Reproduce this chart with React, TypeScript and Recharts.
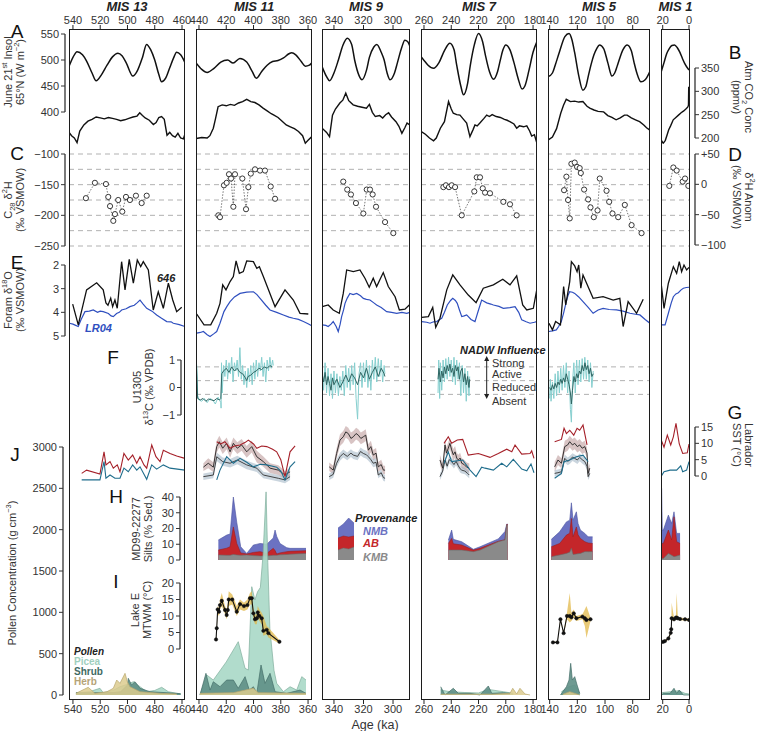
import React from 'react';
import { ComposedChart, LineChart, Line, Area, XAxis, YAxis, ReferenceArea, ReferenceLine } from 'recharts';

const FONT = '"Liberation Sans", Arial, Helvetica, sans-serif';
const PT = 29, PB = 700, CH = 731, PADX = 16;
const PINK = '#e9dcdf', GREY = '#f0efef';

// ---------------- tick labels ----------------
const ticks13 = [540, 520, 500, 480, 460];
const ticks11 = [440, 420, 400, 380, 360];
const ticks9 = [340, 320, 300];
const ticks7 = [260, 240, 220, 200, 180];
const ticks5 = [140, 120, 100, 80];
const ticks1 = [20, 0];

// ---------------- A: June 21st insolation 65N ----------------
const ins13 = [[543,487],[540,505],[537,516],[533,510],[530,498],[526,475],[523,460],[519,472],[515,490],[511,506],[507,513],[504,508],[501,495],[496,469],[493,478],[489,505],[486,530],[483,520],[480,500],[477,472],[475,458],[472,465],[469,485],[466,505],[464,515],[461,510],[458,496]];
const ins11 = [[442,494],[438,482],[434,476],[429,484],[424,496],[419,500],[415,494],[410,503],[405,496],[401,478],[398,465],[394,478],[390,490],[386,497],[382,499],[378,504],[374,512],[372,514],[369,510],[365,497],[362,488],[359,490],[357,495]];
const ins9 = [[348,487],[345,468],[343,460],[340,475],[337,500],[334,528],[331,542],[328,530],[326,500],[323,470],[321,462],[318,480],[316,505],[313,525],[311,530],[308,515],[306,500],[304,475],[302,462],[299,475],[297,495],[294,525],[292,538],[290,535],[288.5,526]];
const ins7 = [[262,506],[259,496],[257,490],[253,484],[249,495],[245,518],[241,532],[238,520],[236,490],[233,450],[231,433],[228,455],[226,490],[223,530],[220,551],[217,535],[215,510],[212,478],[209,463],[206,478],[204,500],[202,520],[200,529],[197,520],[194,495],[191,465],[188,444],[186,450],[183,480],[180,515],[177.2,535]];
const ins5 = [[141,468],[138,475],[136,490],[133,515],[129,545],[126,551],[124,540],[122,515],[119,470],[116,442],[114,448],[112,470],[110,492],[108,510],[106,522],[104,529],[101,522],[98,495],[95,469],[93,475],[91,490],[87,520],[84,529],[81,518],[79,495],[77,475],[74,458],[71,462],[67.6,478]];
const ins1 = [[21.2,477],[19,495],[17,512],[15,522],[13,528],[11,529],[9,524],[7,515],[5,503],[3,492],[1,484],[0,481]];

// ---------------- B: atmospheric CO2 ----------------
const co2_13 = [[542.8,212],[541,205],[539,200],[537,190],[535,215],[532,228],[529,236],[526,240],[523,245],[520,243],[517,241],[514,244],[511,242],[508,240],[505,237],[502,239],[499,242],[496,245],[493,247],[491,254],[489,248],[487,243],[484,238],[481,229],[479,233],[477,244],[475,246],[473,240],[471,206],[469,212],[467,205],[465,202],[463,210],[461,200],[459,198],[458,207]];
const co2_11 = [[442,199],[438,201],[434,200],[432,205],[429.5,221],[428,240],[426,267],[423,271],[420,269],[417,272],[414,270],[411,275],[408,278],[405,283],[402,278],[399,276],[396,271],[393,264],[390,258],[387,252],[385,249],[382,244],[379,236],[376,228],[373,224],[370,220],[367,214],[364,205],[362,189],[360,195],[357.2,203]];
const co2_9 = [[348,221],[345,212],[343,203],[341,249],[339,262],[336,275],[334,281],[332,296],[330,280],[327,271],[324,268],[321,266],[318,264],[316,272],[314,255],[312,246],[309,248],[307,243],[305,250],[303,254],[301,245],[298,235],[296,225],[294,210],[292,222],[290.5,232],[288.6,228]];
const co2_7 = [[262,214],[259,208],[256,200],[253,194],[251,200],[248,221],[245,235],[242,278],[240,262],[238.5,253],[236,250],[233.6,249],[231,240],[228.7,232],[226.3,203],[224,218],[222.6,228],[221,226],[219,232],[216,242],[214,249],[212,246],[210,250],[207,246],[204,244],[201,240],[199,238],[197,235],[194,230],[192,221],[190,226],[187,224],[184.6,226],[182.5,215],[181,204],[179,207],[177.2,189]];
const co2_5 = [[141,196],[138,202],[135,220],[132,253],[130,270],[128,283],[125,278],[122,279],[119,277],[116,278],[113,268],[111,264],[108,260],[105,257],[101,256],[98,248],[95,244],[92,239],[89,243],[86,249],[84,249],[81,243],[78,239],[75,235],[72,228],[70,222],[67.6,217]];
const co2_1 = [[21.2,196],[20,190],[19.5,189],[18,195],[16.5,208],[15.5,217],[14,226],[12,239],[10,244],[8,249],[6,254],[4,258],[2,263],[1,266],[0.4,270],[0.2,310],[0,275]];

// ---------------- C / D: C28 dD ----------------
const c28_13 = [[530.5,-172],[523.9,-147],[515.8,-149],[514.1,-170],[512.8,-185],[510.4,-209],[509.2,-198],[506.8,-175],[503.8,-194],[501.1,-170],[498.2,-175],[493.8,-168],[489.6,-180],[485.9,-168]];
const c28_11 = [[425.8,-200],[424.6,-203],[421.7,-151],[419.7,-147],[418,-133],[416.5,-140],[414.8,-186],[413.6,-133],[408.2,-140],[405.5,-190],[403.8,-154],[402,-132],[398.9,-125],[395.2,-127],[391.6,-127],[387.4,-153],[384.2,-173]];
const c28_9 = [[333.7,-145],[331,-158],[328.5,-166],[325.1,-180],[320.1,-197],[317.8,-158],[315.6,-158],[313.8,-166],[311.5,-186],[305.4,-211],[299.8,-229]];
const c28_7 = [[245.8,-154],[243.9,-151],[241.7,-154],[239.7,-151],[237.2,-154],[232.3,-200],[223.1,-161],[221.3,-138],[218.9,-138],[216.9,-156],[215.2,-163],[211.6,-164],[201.8,-178],[196.9,-182],[192,-200]];
const c28_5 = [[129.6,-159],[127.9,-137],[126.7,-175],[125.5,-205],[124.3,-116],[121.9,-114],[120.2,-121],[118.3,-123],[117.5,-131],[115.1,-158],[112.2,-174],[110.5,-187],[108.1,-203],[105.4,-192],[103.8,-140],[98.9,-160],[97,-178],[94.6,-197],[90.5,-203],[85.7,-183],[80.8,-216],[73.6,-229]];
const c28_1 = [[15,-152],[11.9,-122],[9.4,-127],[4.8,-145],[3,-140],[0.5,-152]];
const cDash = [-100, -125, -150, -175, -200, -225, -250];

// ---------------- E: foram d18O (646 and LR04) ----------------
const f646_13 = [[540.2,3.65],[536.1,4.53],[530,3.05],[522.6,2.75],[517.8,3.05],[515.8,3.6],[514.3,3.7],[512.3,3.4],[510.9,3.76],[509.2,3.48],[507.5,3.83],[504.3,1.86],[501.8,3.05],[498.7,1.76],[495.7,2.77],[492.8,1.79],[490.3,2.07],[488.4,1.86],[484.7,2.21],[481.1,3.9],[477.4,3.13],[473.7,3.83],[470,2.77],[466.8,3.48],[463.9,3.97],[460.2,3.79]];
const lr04_13 = [[542.6,4.46],[540,4.5],[538,4.55],[536.1,4.6],[534,4.3],[531.2,3.97],[528,3.95],[525.1,3.9],[522,4.0],[520,3.95],[517.8,3.97],[514,4.05],[512,4.15],[510.4,4.18],[508,4.05],[506,4.0],[504.3,3.9],[501,3.85],[498.2,3.76],[495,3.7],[493,3.6],[490.8,3.48],[488.5,3.65],[485.9,3.83],[482,3.95],[478.6,4.11],[475,4.25],[471.2,4.39],[468,4.4],[466.4,4.46],[462,4.52],[457.9,4.6]];
const f646_11 = [[441.7,4.07],[436.3,4.53],[431.4,4.53],[427,4.04],[424.6,3.62],[422.6,2.84],[420.2,3.05],[417.2,2.7],[414.8,2.49],[412.8,1.83],[410.4,2.35],[407.5,2.28],[405,1.83],[400.1,1.86],[397.6,2.14],[395.7,2.07],[392.8,2.49],[384.2,3.76],[376.9,3.05],[370.8,3.48],[365.9,4.04],[359.8,4.07]];
const lr04_11 = [[441.7,4.88],[439,4.85],[436.8,4.81],[434,4.95],[431.9,5.02],[429,4.9],[427,4.81],[424.6,4.46],[421.7,3.97],[419.5,3.75],[417.2,3.55],[414,3.35],[409.9,3.2],[405,3.15],[400.1,3.13],[397.5,3.25],[395.2,3.41],[391,3.7],[387.9,3.9],[383,4.0],[378.1,4.11],[374,4.2],[370.8,4.25],[367,4.3],[363.4,4.39],[360,4.48],[357.3,4.57]];
const f646_9 = [[347.9,3.76],[343.9,3.69],[340.5,3.9],[336.4,4.04],[333.7,3.2],[331.4,2.21],[326.9,2.28],[322.4,2.21],[319,2.56],[316.1,2.94],[313.4,2.56],[311.1,2.91],[306.6,2.32],[303.2,2.91],[298.6,3.34],[295.7,3.9],[291.9,3.87],[289,3.69]];
const lr04_9 = [[347.9,4.53],[345.5,4.55],[343.9,4.6],[342,4.5],[340.5,4.39],[338.5,4.6],[337.1,4.81],[335.8,4.5],[334.8,4.18],[333.5,3.9],[332.5,3.62],[331,3.4],[329.2,3.2],[327,3.25],[324.6,3.2],[322,3.3],[320.1,3.41],[318,3.45],[315.6,3.48],[313,3.6],[311.1,3.69],[308,3.8],[304.3,3.97],[301,4.0],[297.5,4.04],[294,4.0],[290.7,4.04],[288.6,4.0]];
const f646_7 = [[261.7,4.21],[256.8,4.18],[253.6,3.79],[251.4,4.63],[248.3,4.25],[243.3,3.05],[238.9,2.42],[233.6,2.84],[227.5,3.27],[221.8,3.59],[216.5,2.98],[209.1,2.84],[202.2,2.6],[196.9,2.84],[192,2.46],[187.6,3.69],[184.6,3.9],[179.8,3.83],[177.3,3.05]];
const lr04_7 = [[261.7,4.39],[258,4.42],[255.6,4.46],[253,4.4],[250.7,4.39],[248.5,4.3],[247,4.25],[245,4.0],[242.9,3.69],[240.5,3.5],[238.9,3.41],[237,3.5],[235.6,3.62],[234,3.9],[232.3,4.18],[230.5,4.15],[228.7,4.11],[225.5,4.3],[222.6,4.39],[220,3.9],[217.7,3.48],[214,3.6],[211,3.65],[209.1,3.69],[205,3.75],[201.8,3.83],[197,3.8],[193.2,3.76],[190.5,4.0],[188.3,4.32],[185,4.4],[182.2,4.46],[179,4.42],[177.3,4.39]];
const f646_5 = [[140.5,4.46],[138,4.74],[135.7,4.39],[132.2,4.53],[129.9,2.91],[128.4,3.69],[125.5,2.7],[124.3,1.86],[121.9,2.04],[120.2,2.28],[119,2.0],[117.5,2.98],[115.9,2.42],[108.6,3.41],[101.4,3.34],[94.1,3.48],[89.3,3.41],[86.9,4.6],[83.3,3.55],[77.2,4.04],[72.4,3.45]];
const lr04_5 = [[140.5,4.81],[138,4.78],[135.2,4.74],[133.5,4.6],[131.6,4.39],[129.8,4.0],[128,3.55],[126.8,3.3],[125.6,3.13],[123.5,3.15],[121.9,3.2],[119,3.35],[115.9,3.55],[112,3.8],[108.6,4.04],[105,3.9],[101.4,3.83],[97,3.88],[91.7,3.9],[87,3.95],[82,4.04],[78,4.08],[74.8,4.11],[71,4.3],[67.6,4.46]];
const f646_1 = [[21.2,2.77],[19,3.83],[15.7,2.77],[11.9,2.07],[9.4,2.35],[7.4,1.86],[5.6,2.28],[3.8,2.0],[1.8,2.21],[0,2.1]];
const lr04_1 = [[20.8,4.53],[18.2,4.53],[15.7,4.04],[13.5,3.6],[11.9,3.34],[10,3.22],[8.1,3.17],[6,3.05],[4.3,2.98],[2,2.95],[0,2.94]];

// ---------------- F: U1305 d13C (dark = smoothed, light = raw) ----------------
const d13D_11 = [[442,0.9],[441.5,0.3],[441,-0.4],[439,-0.45],[437,-0.4],[435,-0.5],[433,-0.42],[431,-0.45],[429,-0.48],[427,-0.4],[425,-0.45],[424,-0.4],[423.3,0.5],[422,0.6],[420,0.7],[418,0.55],[416,0.75],[414,0.6],[412,0.7],[410,0.55],[408,0.5],[406,0.35],[405,0.25],[404,0.4],[402,0.45],[400,0.55],[398,0.6],[396,0.7],[394,0.65],[392,0.75],[390,0.7],[388,0.8],[386.5,0.75]];
const d13L_11 = [[442,0.95],[441.5,0.7],[441,-0.3],[440,-0.45],[438,-0.5],[436,-0.4],[434,-0.55],[432,-0.4],[430,-0.45],[428,-0.6],[426,-0.35],[424,-0.55],[423.8,-0.75],[423.5,0.9],[423,-0.2],[422,0.8],[421,0.4],[420,1.0],[419,0.3],[418,0.9],[417,0.5],[416,1.1],[415,0.2],[414,0.9],[413,0.6],[412,1.0],[411,0.4],[410,1.45],[409,0.3],[408,0.8],[407,0.1],[406,0.6],[405,0.0],[404,0.7],[403,0.2],[402,0.8],[401,0.1],[400,0.9],[399,0.3],[398,1.0],[397,0.4],[396,0.9],[395,0.6],[394,1.1],[393,0.4],[392,0.9],[391,0.2],[390,1.0],[389,0.6],[388,1.1],[387,0.7],[386,1.0],[385.5,0.8]];
const d13D_9 = [[348,0.5],[347,0.2],[346,0.55],[345,0.1],[344,0.4],[343,0.15],[342,-0.1],[341,0.35],[340,0.1],[338,0.3],[336,0.0],[334,0.2],[332,0.45],[330,0.2],[328,0.5],[326,0.35],[324,0.1],[322,0.55],[320,0.35],[318,0.7],[316,0.3],[314,0.55],[312,0.75],[310,0.4],[308,0.7],[306,0.5],[305.5,0.4]];
const d13L_9 = [[348,0.8],[347,-0.1],[346,0.9],[345,-0.2],[344,0.7],[343,-0.3],[342,0.5],[341,-0.4],[340,0.6],[339,-0.2],[338,0.5],[337,-0.3],[336,0.4],[335,-0.1],[334,0.6],[333,-0.3],[332,0.8],[331,0.0],[330,0.7],[329,-0.1],[328,0.8],[327,0.1],[326,0.9],[325,-0.4],[324,-1.15],[323,0.5],[322,0.9],[321,0.0],[320,0.9],[319,0.2],[318,1.0],[317,0.0],[316,0.8],[315,-0.1],[314,1.0],[313,0.3],[312,1.1],[311,0.2],[310,1.05],[309,0.4],[308,1.0],[307,0.2],[306,0.8],[305.5,0.5]];
const d13D_7 = [[249.7,0.3],[249,0.7],[248,0.2],[247,0.6],[246,0.35],[245,0.75],[244,0.5],[243,0.8],[242,0.6],[241,0.85],[240,0.55],[239,0.7],[238,0.4],[237,0.8],[236,0.6],[235,0.75],[234,0.3],[233,0.6],[232,0.7],[231,0.2],[230,0.5],[229,0.1],[228,0.4],[227,0.0],[226.5,0.3]];
const d13L_7 = [[249.7,-0.2],[249.2,1.0],[248.5,-0.4],[248,0.9],[247,-0.1],[246,1.0],[245,0.2],[244,1.05],[243,0.3],[242,1.1],[241,0.4],[240,1.0],[239,0.2],[238,1.1],[237,0.1],[236,1.0],[235,0.3],[234,0.9],[233,-0.3],[232,0.8],[231,-0.2],[230,0.7],[229,-0.5],[228,0.6],[227,-0.3],[226.5,0.4]];
const d13D_5 = [[140,0.0],[139,-0.1],[138,0.1],[137,-0.05],[136,0.15],[135,0.0],[134,0.2],[133,0.1],[132,0.3],[131,0.15],[130,0.35],[129,0.2],[128,0.5],[127,0.3],[126,0.1],[125,-0.2],[124.3,-0.6],[123.5,-0.1],[122.5,0.4],[121.5,0.2],[120.5,0.5],[119.5,0.35],[118.5,0.6],[117.5,0.5],[116.5,0.8],[115.5,0.6],[114.5,0.9],[113.5,0.65],[112.5,0.8],[111.5,0.5],[110.5,0.7],[109.5,0.4],[108.5,0.5]];
const d13L_5 = [[140,-0.4],[139.5,0.3],[139,-0.5],[138,0.2],[137,-0.4],[136,0.5],[135,-0.3],[134,0.6],[133,-0.2],[132,0.7],[131,-0.1],[130,0.8],[129,0.0],[128,0.9],[127,-0.2],[126,0.6],[125,-0.8],[124.3,-1.26],[123.5,0.2],[122.5,0.9],[121.5,-0.2],[120.5,1.0],[119.5,0.1],[118.5,1.0],[117.5,0.2],[116.5,1.05],[115.5,0.3],[114.6,1.1],[113.5,0.3],[112.5,1.0],[111.5,0.2],[110.5,0.9],[109.5,0.0],[108.5,0.6]];
const fDash = [0.75, 0.25, -0.25];

// ---------------- G: Labrador SST (red, blue) + paired records [age, value, err] ----------------
const sstR_13 = [[533.6,0.8],[530,1.8],[520.2,0.6],[517.2,7.4],[515.8,3.4],[512.8,4.4],[510.4,2.4],[507.5,3.4],[505.5,1.3],[502.6,6.9],[499.4,4.9],[496.2,6.4],[493.2,3.9],[490.8,5.9],[487.9,3.4],[485.9,2.4],[482.2,9.5],[479.1,5.9],[476.1,4.4],[473.7,7.9],[468.8,6.9],[463.9,6.1],[457.9,5.4]];
const sstB_13 = [[533.6,-1.2],[520.2,-1.2],[517.2,4.4],[515.8,-0.7],[512.8,0.3],[509.2,-0.7],[505.5,-0.7],[502.6,2.4],[499.4,1.3],[496.2,3.4],[493.2,1.8],[490.8,2.8],[485.9,-1.0],[482.2,3.4],[478.6,2.1],[473.7,3.4],[468.8,2.4],[457.9,1.8]];
const sstR_11 = [[427,10.5],[424,9.8],[421,10.5],[417.2,8.5],[414,9.2],[409.9,9.5],[406,10.3],[403.8,11],[400,9.8],[397.6,8.5],[394,9.2],[390.3,9],[386,8.2],[383,7.4],[380,5],[376.9,-0.2],[373.2,7.4],[369.5,9.2]];
const sstB_11 = [[427,-1.2],[424.6,1.8],[419.7,5.9],[414.8,3.9],[409.9,5.4],[405,4.2],[400.1,2.8],[395,3.6],[390.3,3.4],[383,2.7],[380,1.5],[376.9,-1.2],[373.2,2.8],[369.5,4.4]];
const sstK1_11 = [[436.8,2.7,1.2],[433.2,3.9,1.5],[429.5,2.7,1.5],[427,9,1.8],[425.1,10.5,1.8],[422.6,8.5,1.8],[419.7,10,1.8],[417.2,7.4,1.8],[414.8,10,1.8],[411.9,8.5,1.8],[408.7,9.5,1.8],[405,7.4,1.8],[401.3,9,1.8],[397.6,5.9,1.8],[392.8,4.4,1.6],[387.9,2.4,1.5],[381.8,1.8,1.5],[376.9,0.3,1.2],[373.2,1.3,1.2]];
const sstK2_11 = [[436.8,-0.2,1],[429.5,0.3,1],[427,5.9,1.3],[422.6,4.4,1.3],[417.2,3.9,1.3],[411.9,4.9,1.3],[405,3.4,1.3],[397.6,2.4,1.2],[392.8,0.3,1],[381.8,-0.7,1],[376.9,-1.2,1],[373.2,-0.2,1]];
const sstK1_9 = [[343.2,2.8,1.3],[340.5,1.8,1.3],[338.2,6.9,1.6],[335.9,11,1.8],[333.7,12,1.8],[332,13.5,1.8],[330.3,13,1.8],[328.5,11.5,1.8],[326.9,12,1.8],[325,13,1.8],[323.5,12.5,1.8],[321.8,11.5,1.8],[320.1,12,1.8],[318.5,12.5,1.8],[316.7,7.9,1.8],[315,9,1.8],[313.4,6.4,1.6],[311.5,7,1.6],[310,2.8,1.5],[308,3.5,1.5],[306.5,1.8,1.3],[305.4,1.8,1.3]];
const sstK2_9 = [[343.2,-0.2,1],[340.5,0.5,1],[338.2,3.9,1.2],[335.9,5.9,1.2],[333.7,6.9,1.2],[331,6,1.2],[328.5,7,1.2],[326.9,6.4,1.2],[324,6,1.2],[322,7.5,1.2],[320.1,6.9,1.2],[318,6.5,1.2],[316.7,5.9,1.2],[315,5,1.2],[313.4,3.9,1.2],[311.5,4.2,1.2],[310,0.3,1],[308,1,1],[306.5,-0.5,1],[305.4,-0.7,1]];
const sstR_7 = [[245.3,10],[242.2,12],[239.7,10],[235.6,11],[231.6,11.2],[227.5,6.4],[220.1,6.9],[211.6,5.7],[205.5,6.9],[199.3,8.2],[195.6,7.4],[193.2,9.5],[188.3,6.7],[182.2,6.9],[181,7.7],[179.3,5.4]];
const sstB_7 = [[245.3,3.9],[242.2,7.4],[239.7,4.4],[231.6,4.9],[226.2,1.8],[221.8,-0.2],[217.7,2.7],[215.2,2.4],[209.1,1.8],[203,3.9],[199.3,2.8],[194.5,5.1],[188.3,2.1],[184.6,1.6],[181.5,3.7],[179.3,1.0]];
const sstK1_7 = [[248.3,4.9,1.5],[246.3,2.4,1.5],[244.6,9.5,1.8],[243.5,7,1.8],[242.2,8.5,1.8],[241,10,1.8],[239.7,8,1.8],[238.5,6.5,1.8],[237.2,7.4,1.8],[236,5.5,1.6],[234.8,4.9,1.6],[233.5,5.5,1.6],[232.3,3.9,1.5],[230.5,3.5,1.5],[228.7,2.7,1.4],[226.8,2.4,1.4]];
const sstK2_7 = [[248.3,-0.2,1],[246.3,1.5,1],[244.6,4.9,1.2],[243,3,1.2],[241.5,5,1.2],[239.7,4.4,1.2],[238,3.5,1.2],[236.5,4.5,1.2],[234.8,3.1,1.1],[233.5,2.2,1.1],[232.3,1.8,1],[230,1.5,1],[228,0.8,1],[226.8,0.3,1]];
const sstR_5 = [[136.4,10.5],[131.5,11.2],[129.6,14.6],[127.9,13],[125.5,14],[122.6,12.5],[120.2,14.6],[118.3,14],[115.9,15.6],[113,9.5]];
const sstB_5 = [[136.4,-0.7],[131.5,0.8],[129.6,4.4],[125.5,4.9],[120.7,5.9],[115.9,6.4],[112.2,4.4]];
const sstK1_5 = [[136.4,2.8,1.5],[134,4.9,1.5],[131.5,3.9,1.5],[129.1,9,1.8],[127,9.5,1.8],[125.5,10.5,1.8],[123.5,9.5,1.8],[121.9,10,1.8],[120,9,1.8],[118.3,9.5,1.8],[116.5,8.5,1.8],[114.6,9,1.8],[113,7,1.6],[112.2,0.8,1.4],[111,2.4,1.4]];
const sstK2_5 = [[136.4,0.8,1],[134,1,1],[131.5,1.3,1],[129.1,5.4,1.2],[127,4.5,1.2],[125.5,4.9,1.2],[123.5,5.8,1.2],[121.9,5.4,1.2],[120,4.9,1.2],[118.3,5.7,1.2],[116.5,5,1.2],[114.6,4.4,1.2],[113,3,1.1],[112.2,-0.2,1],[111,0.8,1]];
const sstR_1 = [[21.3,11.2],[19,8.8],[16.5,12.5],[13.9,9.5],[11.9,12],[9.9,16.1],[7.4,9.8],[4.8,6.9],[1.3,7.1],[0,9.8]];
const sstB_1 = [[21.3,-0.2],[19,1.3],[14.4,1.8],[9.4,1.8],[6.3,3.1],[4.8,1.3],[1.8,1.8],[0,4.4]];

// ---------------- H: MD99-2227 silts [age, KMB, AB, NMB] ----------------
const silt11 = [[425.8,3.2,3.1,6.4],[419.7,3,4.5,8.3],[417.2,3,5.4,8.1],[414.8,3.5,17.5,19],[412.3,3.2,7.3,13.5],[409.4,3,1.5,3.9],[405,3.2,0.6,0.4],[400.1,2.8,2,4.7],[395.2,2.6,2.7,5.2],[390.3,2.5,1.7,5.8],[385.5,3,4.4,6.6],[384.2,3,3,13],[383,3,0.8,11.2],[380.6,3.3,1.2,6],[375.6,3.5,1.8,2.5],[373.2,3.7,1.8,1.9],[361.5,4.2,1.7,1.5]];
const silt7 = [[242.1,6.3,4.2,2.2],[239.7,6.3,7.4,5.3],[238.5,6.3,4,2.8],[232.3,6.3,3.2,2.1],[223.8,5.3,1,0.5],[218.9,6.3,1.1,1],[205.5,11.6,0.3,1.5],[200.6,12.7,0.2,5.2],[199.3,22.2,0.3,0.3],[198.6,22.2,0.3,0.3]];
const silt5 = [[138.8,2.1,6.3,4.7],[132.8,3.2,7.3,7.4],[127.9,4.2,11.6,8.4],[125.5,5,12,8.3],[124.3,7.4,19,9.9],[123.1,3.5,11.2,10.6],[120.7,3.8,17.2,9.6],[119.5,4,12,7.2],[117.8,4.2,9.5,5.3],[114.6,5.3,6.3,5.3],[112.2,5.3,5.5,3.9],[109,5.3,5.2,4.2]];
const silt1 = [[20.8,1,9.5,35],[20.3,1,9.5,8.5],[19.5,1,9.5,8.5],[15.7,4.2,14.8,9.5],[13.2,3,9.7,10.5],[11.4,2.1,25.3,3.2],[9.4,2.5,9.1,5.3],[6.8,3.2,7.3,6.4]];
const provSwatch = [[0,10,12,10],[1,12,12,12],[2,11,12,19],[3,13,11,13]];

// ---------------- I: Lake E MTWM [age, value, low, high] ----------------
const mtwm11 = [[427.5,2.9,2.5,3.5],[427,6.3,5.5,7],[426.3,12,10.5,13],[425.3,11.3,10,12.5],[424.6,13.3,12,15],[423.3,14.6,13,17],[420.9,11.8,10.5,13],[419.7,10.3,9,12],[418.9,11.8,10.5,14],[418.2,15,13,17.5],[415.6,15,13.5,16.5],[412.3,11.3,10,13],[409.9,13.6,12,15],[407,13,11.5,14],[404.5,13.3,12,15],[402.6,15.4,13.5,17],[401.3,15.4,13.5,17.5],[400.1,10.8,9,12.5],[398.9,9,7.5,10.5],[397.6,9.3,7.5,10.5],[396.9,11.1,9.5,13],[395.7,10,8.5,12],[394,9.3,7.5,11],[392.8,5.5,4,10],[390.3,5.8,4.5,7],[389.1,4.8,3.5,6.5],[381,2.2,1.7,2.7]];
const mtwm5 = [[137.6,2,1.8,2.2],[134.4,2,1.8,2.2],[132.2,9,8.5,9.5],[129.9,4.8,4.5,5.1],[127.5,10,9,11],[125.5,10,8,17],[124.3,9.6,8.5,11],[122.6,10.8,9.5,12],[120.7,9.3,8.5,10],[116.3,9.8,9,10.5],[114.6,9.3,7,12],[113.4,8.8,3.3,13],[110.5,9,8.5,9.5]];
const mtwm1 = [[21.3,2,1.8,2.2],[19.5,2.2,2,2.4],[18.3,2.4,2.2,2.6],[15.7,3.2,2.8,3.6],[13.9,4.9,4.4,5.4],[13.5,6,5.5,6.5],[13.2,9.3,8.8,14],[11.4,9,8.5,9.5],[10,9.5,9,10],[9.4,9.5,9,17],[8.5,9.3,8.8,9.8],[6.8,9.1,8.7,9.5],[3,9,8.6,9.4],[0,8.8,8.4,9.2]];

// ---------------- J: pollen concentration ----------------
const picea13 = [[537.8,28],[528,40],[520.2,81],[517.8,28],[510,60],[505.5,100],[500,130],[495.7,161],[490.8,100],[485.9,40],[480,55],[474.9,93],[470,40],[463.9,20],[461,15]];
const shrub13 = [[537.8,28],[520.2,28],[510,30],[505,40],[500,120],[499.4,202],[497,121],[494.5,161],[490.8,81],[483.5,40],[463.9,20],[461,15]];
const herb13 = [[537.8,20],[528.8,93],[523.9,20],[515,40],[510.4,81],[507.9,181],[505.5,141],[501.8,262],[500.1,161],[498.2,100],[490.8,40],[476.1,20],[463.9,12]];
const picea11 = [[439.3,0],[434.3,242],[429.5,181],[420,400],[411.2,645],[406.2,323],[403.8,302],[401.3,1310],[399,1150],[397,1250],[395,1300],[393,1700],[390.8,2457],[389.5,1600],[388,800],[385,300],[383,141],[378.1,40],[373.2,100],[368.3,60],[364.6,222],[361.5,181]];
const shrub11 = [[439.3,0],[434.9,262],[431.9,60],[429.5,161],[424.6,100],[419.7,181],[414.8,181],[411.2,81],[406.2,222],[403.1,60],[400.1,100],[397.6,20],[394.5,363],[391.6,141],[387.9,262],[384.2,40],[375.6,20],[365.9,60],[361.5,20]];
const herb11 = [[439.3,20],[414.8,28],[400.1,81],[396.5,28],[361.5,20]];
const picea7 = [[247.7,60],[240.9,40],[230,30],[220,25],[212.8,68],[201.8,40],[194.5,20]];
const shrub7 = [[247.7,100],[244.6,0],[238.5,81],[234.8,20],[226.2,20],[218.9,0],[212.8,109],[210.3,20],[201.8,28],[196.9,20]];
const herb7 = [[247.7,10],[230,10],[210,10],[196.9,20],[194.9,81],[192,12],[189.6,81],[185.9,12],[182.2,0]];
const picea5 = [[131.5,40],[126,100],[121.9,121],[118.3,20]];
const shrub5 = [[132.2,0],[127.9,100],[126,181],[124.8,383],[123.6,181],[121.9,222],[120.2,121],[118.3,20]];
const herb5 = [[130.4,8],[125.5,40],[118.3,0]];
const picea1 = [[20.8,28],[14.4,40],[8.1,52],[3,20],[0,12]];
const shrub1 = [[20.8,0],[19.5,20],[14.4,20],[11.4,81],[9.4,20],[7.4,60],[4.3,0],[0,0]];

// ---------------- columns ----------------
const COLS = [
  { id: '13', title: 'MIS 13', left: 69, right: 185, domain: [457.8, 542.9], ticks: ticks13,
    bands: [[533, 513, 'p'], [513, 505, 'g'], [505, 478.4, 'p']],
    ins: ins13, co2: co2_13, c28: c28_13, f646: f646_13, lr04: lr04_13, sstR: sstR_13, sstB: sstB_13,
    picea: picea13, shrub: shrub13, herb: herb13 },
  { id: '11', title: 'MIS 11', left: 196, right: 312, domain: [357.1, 442.2], ticks: ticks11,
    bands: [[423.3, 415.3, 'g'], [415.3, 395.7, 'p'], [395.7, 374.2, 'g']],
    ins: ins11, co2: co2_11, c28: c28_11, f646: f646_11, lr04: lr04_11, d13D: d13D_11, d13L: d13L_11,
    sstR: sstR_11, sstB: sstB_11, sstK1: sstK1_11, sstK2: sstK2_11, silt: silt11, mtwm: mtwm11,
    picea: picea11, shrub: shrub11, herb: herb11 },
  { id: '9', title: 'MIS 9', left: 322, right: 410, domain: [288.5, 348.1], ticks: ticks9,
    bands: [[333.7, 316.3, 'p'], [316.3, 300.2, 'g']],
    ins: ins9, co2: co2_9, c28: c28_9, f646: f646_9, lr04: lr04_9, d13D: d13D_9, d13L: d13L_9,
    sstK1: sstK1_9, sstK2: sstK2_9 },
  { id: '7', title: 'MIS 7', left: 421, right: 537, domain: [177.1, 262.2], ticks: ticks7,
    bands: [[242.9, 230.4, 'p'], [230.4, 222, 'g'], [222, 205.4, 'p'], [205.4, 191, 'g']],
    ins: ins7, co2: co2_7, c28: c28_7, f646: f646_7, lr04: lr04_7, d13D: d13D_7, d13L: d13L_7,
    sstR: sstR_7, sstB: sstB_7, sstK1: sstK1_7, sstK2: sstK2_7, silt: silt7,
    picea: picea7, shrub: shrub7, herb: herb7 },
  { id: '5', title: 'MIS 5', left: 548, right: 650, domain: [67.5, 141.2], ticks: ticks5,
    bands: [[129.1, 115.4, 'p'], [115.4, 71.7, 'g']],
    ins: ins5, co2: co2_5, c28: c28_5, f646: f646_5, lr04: lr04_5, d13D: d13D_5, d13L: d13L_5,
    sstR: sstR_5, sstB: sstB_5, sstK1: sstK1_5, sstK2: sstK2_5, silt: silt5, mtwm: mtwm5,
    picea: picea5, shrub: shrub5, herb: herb5 },
  { id: '1', title: 'MIS 1', left: 661, right: 690, domain: [-0.76, 21.3], ticks: ticks1,
    bands: [[14.4, -0.76, 'p']],
    ins: ins1, co2: co2_1, c28: c28_1, f646: f646_1, lr04: lr04_1,
    sstR: sstR_1, sstB: sstB_1, silt: silt1, mtwm: mtwm1, picea: picea1, shrub: shrub1 },
];

// value/pixel anchors for each panel: [v0, y0, v1, y1] (page pixels)
const PANEL = {
  ins: [550, 34, 400, 112],
  co2: [350, 68, 200, 138],
  c28: [-100, 154, -250, 246],
  foram: [2, 265, 5, 336],
  d13c: [1, 360, -1, 415],
  sst: [15, 427, 0, 476],
  silt: [40, 497, 0, 560],
  mtwm: [20, 583, 0, 649],
  pollen: [3000, 447, 0, 695],
};

function axisFor(v0, y0, v1, y1) {
  const s = (v1 - v0) / (y1 - y0);
  const top = v0 + (PT - y0) * s;
  const bot = v0 + (PB - y0) * s;
  return { domain: [Math.min(top, bot), Math.max(top, bot)], reversed: top < bot };
}

const xy = (a) => a.map(([x, y]) => ({ x, y }));
const xyr = (a) => a.map(([x, y, lo, hi]) => ({ x, y, r: [lo, hi] }));
const xye = (a) => a.map(([x, y, e]) => ({ x, y, r: [y - e, y + e] }));
const stackSilt = (a) => a.map(([x, k, ab, n]) => ({ x, k, a: k + ab, t: k + ab + n }));
const fmtMinus = (v) => (v < 0 ? '\u2212' + Math.abs(v) : String(v));
const tickStyle = { fontSize: 11, fill: '#333', fontFamily: FONT };

function Column({ c }) {
  const w = c.right - c.left;
  const s = [];
  const line = (key, yId, data, props) =>
    s.push(<Line key={key} xAxisId="b" yAxisId={yId} data={data} dataKey="y" type="linear" dot={false}
      isAnimationActive={false} strokeWidth={1.2} connectNulls {...props} />);
  const area = (key, yId, data, dk, props) =>
    s.push(<Area key={key} xAxisId="b" yAxisId={yId} data={data} dataKey={dk} type="linear"
      isAnimationActive={false} connectNulls {...props} />);

  line('ins', 'ins', xy(c.ins), { stroke: '#111', strokeWidth: 1.5, type: 'monotone' });
  line('co2', 'co2', xy(c.co2), { stroke: '#111', strokeWidth: 1.4 });
  line('c28', 'c28', xy(c.c28), { stroke: '#555', strokeWidth: 0.8, strokeDasharray: '1.5 1.5',
    dot: { r: 2.6, fill: '#fff', stroke: '#222', strokeWidth: 0.9, strokeDasharray: 'none' } });
  line('lr04', 'foram', xy(c.lr04), { stroke: '#2f4fbf', strokeWidth: 1.2 });
  line('f646', 'foram', xy(c.f646), { stroke: '#111', strokeWidth: 1.3 });
  if (c.d13L) line('d13L', 'd13c', xy(c.d13L), { stroke: '#86cfcf', strokeWidth: 1 });
  if (c.d13D) line('d13D', 'd13c', xy(c.d13D), { stroke: '#2f6663', strokeWidth: 1 });
  if (c.sstK1) {
    area('k1band', 'sst', xye(c.sstK1), 'r', { stroke: 'none', fill: '#b89393', fillOpacity: 0.55 });
    area('k2band', 'sst', xye(c.sstK2), 'r', { stroke: 'none', fill: '#9fb3c2', fillOpacity: 0.55 });
    line('k1', 'sst', xy(c.sstK1), { stroke: '#222', strokeWidth: 0.9 });
    line('k2', 'sst', xy(c.sstK2), { stroke: '#333', strokeWidth: 0.9 });
  }
  if (c.sstR) line('sstR', 'sst', xy(c.sstR), { stroke: '#a52029', strokeWidth: 1.1 });
  if (c.sstB) line('sstB', 'sst', xy(c.sstB), { stroke: '#1f6d8c', strokeWidth: 1.1 });
  if (c.silt) {
    const sd = stackSilt(c.silt);
    area('nmb', 'silt', sd, 't', { baseValue: 0, fill: '#6b72c2', fillOpacity: 1, stroke: '#4a52a0', strokeWidth: 0.6 });
    area('ab', 'silt', sd, 'a', { baseValue: 0, fill: '#c4262a', fillOpacity: 1, stroke: '#9a1c1f', strokeWidth: 0.6 });
    area('kmb', 'silt', sd, 'k', { baseValue: 0, fill: '#8a8a8a', fillOpacity: 1, stroke: '#6a6a6a', strokeWidth: 0.6 });
  }
  if (c.picea) area('picea', 'pollen', xy(c.picea), 'y', { baseValue: 0, fill: '#a9d8c6', fillOpacity: 0.9, stroke: '#7fae9c', strokeWidth: 0.7 });
  if (c.shrub) area('shrub', 'pollen', xy(c.shrub), 'y', { baseValue: 0, fill: '#5f8f86', fillOpacity: 0.9, stroke: '#456f68', strokeWidth: 0.7 });
  if (c.herb) area('herb', 'pollen', xy(c.herb), 'y', { baseValue: 0, fill: '#dccb8e', fillOpacity: 0.85, stroke: '#b9a86e', strokeWidth: 0.7 });
  if (c.mtwm) {
    const md = xyr(c.mtwm);
    area('mband', 'mtwm', md, 'r', { stroke: 'none', fill: '#e2b84a', fillOpacity: 0.75 });
    line('mline', 'mtwm', md, { stroke: '#111', strokeWidth: 1.1,
      dot: { r: 1.7, fill: '#111', stroke: '#111', strokeWidth: 0.5 } });
  }

  const xProps = {
    type: 'number', dataKey: 'x', domain: c.domain, reversed: true, ticks: c.ticks, interval: 0,
    height: 20, allowDataOverflow: true, axisLine: false, tickSize: 4, tickMargin: 1,
    tick: tickStyle, tickLine: { stroke: '#222', strokeWidth: 1 },
  };
  return (
    <div style={{ position: 'absolute', left: c.left - PADX, top: 0 }}>
      <ComposedChart width={w + 2 * PADX} height={CH} margin={{ top: 9, bottom: 11, left: PADX, right: PADX }}>
        <XAxis xAxisId="b" orientation="bottom" {...xProps} />
        <XAxis xAxisId="t" orientation="top" {...xProps} />
        <YAxis yAxisId="bg" hide type="number" domain={[0, 1]} />
        {Object.keys(PANEL).map((k) => {
          const a = axisFor(...PANEL[k]);
          return <YAxis key={k} yAxisId={k} hide type="number" domain={a.domain} reversed={a.reversed} allowDataOverflow />;
        })}
        {c.bands.map(([a, b, t], i) => (
          <ReferenceArea key={'band' + i} xAxisId="b" yAxisId="bg" x1={a} x2={b} y1={0} y2={1}
            fill={t === 'p' ? PINK : GREY} fillOpacity={1} stroke="none" ifOverflow="hidden" />
        ))}
        {cDash.map((v) => (
          <ReferenceLine key={'cd' + v} xAxisId="b" yAxisId="c28" y={v} stroke="#a8a8a8" strokeDasharray="5 4" strokeWidth={0.9} />
        ))}
        {c.d13D ? fDash.map((v) => (
          <ReferenceLine key={'fd' + v} xAxisId="b" yAxisId="d13c" y={v} stroke="#a8a8a8" strokeDasharray="5 4" strokeWidth={0.9} />
        )) : null}
        {s}
      </ComposedChart>
      <div style={{ position: 'absolute', left: PADX, top: PT, width: w, height: PB - PT, border: '1.3px solid #1c1c1c', boxSizing: 'border-box', pointerEvents: 'none' }} />
    </div>
  );
}

const AXES = [
  { side: 'left', x: 65, v0: 550, y0: 34, v1: 400, y1: 112, ticks: [400, 450, 500, 550] },
  { side: 'left', x: 65, v0: -100, y0: 154, v1: -250, y1: 246, ticks: [-250, -200, -150, -100] },
  { side: 'left', x: 65, v0: 2, y0: 265, v1: 5, y1: 336, ticks: [2, 3, 4, 5] },
  { side: 'left', x: 63, v0: 3000, y0: 447, v1: 0, y1: 695, ticks: [0, 500, 1000, 1500, 2000, 2500, 3000] },
  { side: 'left', x: 181, v0: 1, y0: 360, v1: -1, y1: 415, ticks: [-1, 0, 1] },
  { side: 'left', x: 180, v0: 40, y0: 497, v1: 0, y1: 560, ticks: [0, 10, 20, 30, 40] },
  { side: 'left', x: 180, v0: 20, y0: 583, v1: 0, y1: 649, ticks: [0, 5, 10, 15, 20] },
  { side: 'right', x: 695, v0: 350, y0: 68, v1: 200, y1: 138, ticks: [200, 250, 300, 350] },
  { side: 'right', x: 695, v0: 50, y0: 154, v1: -100, y1: 245, ticks: [-100, -50, 0, 50], plus: true },
  { side: 'right', x: 695, v0: 15, y0: 427, v1: 0, y1: 476, ticks: [0, 5, 10, 15] },
];

function AxisOnly({ a }) {
  const pad = 8, W = 48;
  const h = a.y1 - a.y0;
  const lo = Math.min(a.v0, a.v1), hi = Math.max(a.v0, a.v1);
  const fmt = (v) => (a.plus && v > 0 ? '+' + v : fmtMinus(v));
  return (
    <div style={{ position: 'absolute', top: a.y0 - pad, left: a.side === 'left' ? a.x - W : a.x - 2 }}>
      <LineChart width={W + 2} height={h + 2 * pad} data={[{ x: 0, y: lo }, { x: 1, y: hi }]}
        margin={{ top: pad, bottom: pad, left: 0, right: 0 }}>
        <XAxis dataKey="x" type="number" hide domain={[0, 1]} />
        <YAxis type="number" orientation={a.side} width={W} domain={[lo, hi]} reversed={a.v0 < a.v1}
          ticks={a.ticks} interval={0} tick={tickStyle} tickFormatter={fmt} tickSize={4} tickMargin={2}
          axisLine={{ stroke: '#333', strokeWidth: 1.3 }} tickLine={{ stroke: '#333', strokeWidth: 1 }} allowDataOverflow />
        <Line dataKey="y" stroke="none" dot={false} isAnimationActive={false} />
      </LineChart>
    </div>
  );
}

const sup = (t) => <sup style={{ fontSize: '0.68em', verticalAlign: 'super', lineHeight: 0 }}>{t}</sup>;
const sub = (t) => <sub style={{ fontSize: '0.68em', verticalAlign: 'sub', lineHeight: 0 }}>{t}</sub>;

function RotLabel({ x, y, deg, lines }) {
  return (
    <div style={{ position: 'absolute', left: x, top: y, transform: `translate(-50%,-50%) rotate(${deg}deg)`,
      whiteSpace: 'nowrap', textAlign: 'center', fontSize: 11, lineHeight: '12px', color: '#333' }}>
      {lines.map((l, i) => <div key={i}>{l}</div>)}
    </div>
  );
}

function Letter({ x, y, t }) {
  return <div style={{ position: 'absolute', left: x, top: y, transform: 'translate(-50%,-50%)', fontSize: 19, color: '#111', lineHeight: '20px' }}>{t}</div>;
}

function Txt({ x, y, children, style }) {
  return <div style={{ position: 'absolute', left: x, top: y, transform: 'translateY(-50%)', whiteSpace: 'nowrap', fontSize: 11, lineHeight: '12px', ...style }}>{children}</div>;
}

function ProvSwatch() {
  const d = provSwatch.map(([i, k, ab, n]) => ({ i, k, a: k + ab, t: k + ab + n }));
  return (
    <div style={{ position: 'absolute', left: 338, top: 518 }}>
      <ComposedChart width={16} height={42} data={d} margin={{ top: 0, bottom: 0, left: 0, right: 0 }}>
        <XAxis dataKey="i" type="number" hide domain={[0, 3]} />
        <YAxis hide type="number" domain={[0, 42]} />
        <Area dataKey="t" type="linear" baseValue={0} fill="#6b72c2" fillOpacity={1} stroke="#4a52a0" strokeWidth={0.5} isAnimationActive={false} />
        <Area dataKey="a" type="linear" baseValue={0} fill="#c4262a" fillOpacity={1} stroke="#9a1c1f" strokeWidth={0.5} isAnimationActive={false} />
        <Area dataKey="k" type="linear" baseValue={0} fill="#8a8a8a" fillOpacity={1} stroke="#6a6a6a" strokeWidth={0.5} isAnimationActive={false} />
      </ComposedChart>
    </div>
  );
}

export default function App() {
  const leg = { fontWeight: 'bold', fontSize: 10, lineHeight: '10px' };
  return (
    <div style={{ position: 'absolute', left: 0, top: 0, width: 757, height: 731, background: '#fff', fontFamily: FONT, overflow: 'hidden' }}>
      {COLS.map((c) => <Column key={c.id} c={c} />)}
      {COLS.map((c) => (
        <div key={'t' + c.id} style={{ position: 'absolute', left: (c.left + c.right) / 2, top: -1, transform: 'translateX(-50%)', fontSize: 13, fontWeight: 'bold', fontStyle: 'italic', color: '#222', whiteSpace: 'nowrap' }}>{c.title}</div>
      ))}
      {AXES.map((a, i) => <AxisOnly key={i} a={a} />)}

      <Letter x={17} y={32} t="A" />
      <Letter x={735} y={53} t="B" />
      <Letter x={17} y={154} t="C" />
      <Letter x={735} y={155} t="D" />
      <Letter x={17} y={263} t="E" />
      <Letter x={113} y={358} t="F" />
      <Letter x={735} y={413} t="G" />
      <Letter x={116} y={497} t="H" />
      <Letter x={116} y={582} t="I" />
      <Letter x={15} y={455} t="J" />

      <RotLabel x={14} y={72} deg={-90} lines={[<>June 21{sup('st')} Insol</>, <>65°N (W m{sup('\u22122')})</>]} />
      <RotLabel x={14} y={200} deg={-90} lines={[<>C{sub('28')} δ{sup('2')}H</>, <>(‰ VSMOW)</>]} />
      <RotLabel x={14} y={300} deg={-90} lines={[<>Foram δ{sup('18')}O</>, <>(‰ VSMOW)</>]} />
      <RotLabel x={12} y={573} deg={-90} lines={[<>Pollen Concentration (g cm{sup('\u22123')})</>]} />
      <RotLabel x={143} y={387} deg={-90} lines={[<>U1305</>, <>δ{sup('13')}C (‰ VPDB)</>]} />
      <RotLabel x={142} y={529} deg={-90} lines={[<>MD99-22277</>, <>Silts (% Sed.)</>]} />
      <RotLabel x={141} y={610} deg={-90} lines={[<>Lake E</>, <>MTWM (°C)</>]} />
      <RotLabel x={743} y={97} deg={90} lines={[<>Atm CO{sub('2')} Conc</>, <>(ppmv)</>]} />
      <RotLabel x={743} y={197} deg={90} lines={[<>δ{sup('2')}H Anom</>, <>(‰ VSMOW)</>]} />
      <RotLabel x={743} y={445} deg={90} lines={[<>Labrador</>, <>SST (°C)</>]} />

      <Txt x={157} y={278} style={{ fontWeight: 'bold', fontStyle: 'italic', color: '#222' }}>646</Txt>
      <Txt x={85} y={328} style={{ fontWeight: 'bold', fontStyle: 'italic', color: '#2f4fbf' }}>LR04</Txt>

      <Txt x={460} y={350} style={{ fontWeight: 'bold', fontStyle: 'italic', color: '#222' }}>NADW Influence</Txt>
      <Txt x={492} y={362.7} style={{ color: '#333' }}>Strong</Txt>
      <Txt x={492} y={374.3} style={{ color: '#333' }}>Active</Txt>
      <Txt x={492} y={387.3} style={{ color: '#333' }}>Reduced</Txt>
      <Txt x={492} y={400.7} style={{ color: '#333' }}>Absent</Txt>
      <svg style={{ position: 'absolute', left: 482, top: 355 }} width={10} height={46}>
        <line x1={4.7} y1={3} x2={4.7} y2={42} stroke="#222" strokeWidth={1} />
        <path d="M2.2 6 L4.7 1 L7.2 6 Z" fill="#222" />
        <path d="M2.2 39 L4.7 44 L7.2 39 Z" fill="#222" />
      </svg>

      <ProvSwatch />
      <Txt x={355} y={518.3} style={{ fontWeight: 'bold', fontStyle: 'italic', color: '#222' }}>Provenance</Txt>
      <Txt x={363} y={530.7} style={{ fontWeight: 'bold', fontStyle: 'italic', color: '#6b72c2' }}>NMB</Txt>
      <Txt x={363} y={543.3} style={{ fontWeight: 'bold', fontStyle: 'italic', color: '#c4262a' }}>AB</Txt>
      <Txt x={363} y={556.7} style={{ fontWeight: 'bold', fontStyle: 'italic', color: '#8a8a8a' }}>KMB</Txt>

      <Txt x={74} y={651.5} style={{ ...leg, fontStyle: 'italic', color: '#222' }}>Pollen</Txt>
      <Txt x={74} y={661.5} style={{ ...leg, color: '#9fd0be' }}>Picea</Txt>
      <Txt x={74} y={671.5} style={{ ...leg, color: '#3f6a63' }}>Shrub</Txt>
      <Txt x={74} y={681.5} style={{ ...leg, color: '#b5a377' }}>Herb</Txt>

      <div style={{ position: 'absolute', left: 375, top: 725, transform: 'translate(-50%,-50%)', fontSize: 12.5, color: '#333', whiteSpace: 'nowrap' }}>Age (ka)</div>
    </div>
  );
}
